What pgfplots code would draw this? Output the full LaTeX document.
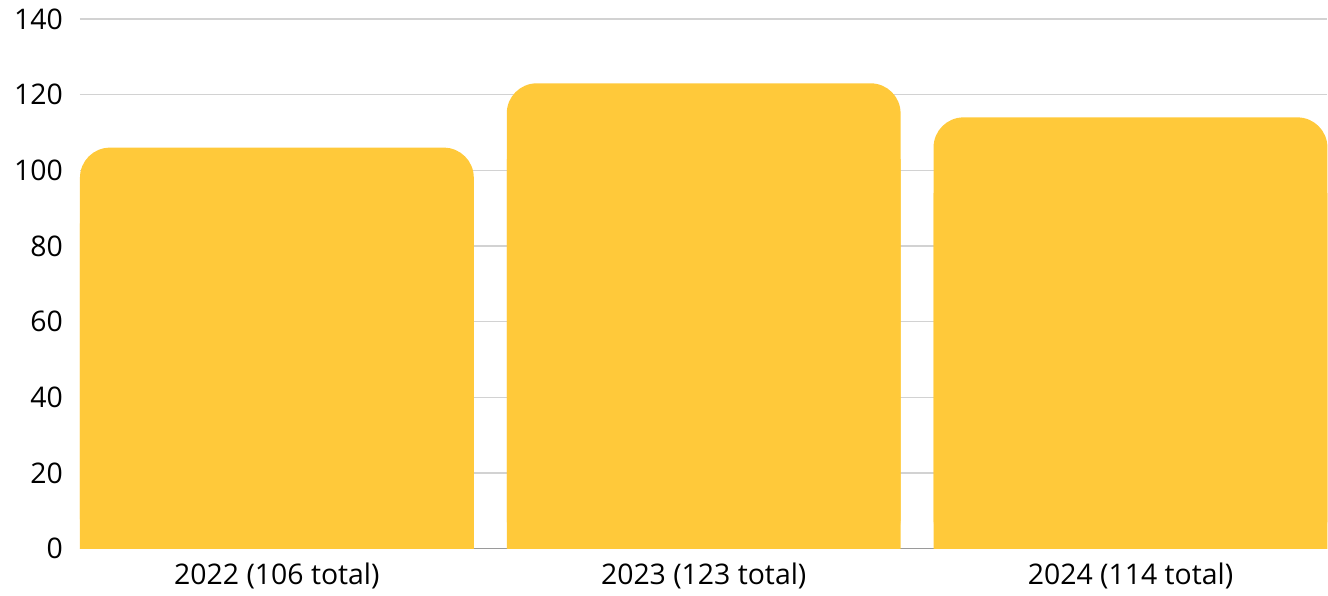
\documentclass[border=0pt]{standalone}
\usepackage{fontspec}
\setmainfont{Open Sans}
\usepackage{pgfplots}
\pgfplotsset{compat=1.18}
\usepackage{pgfplotstable}
\definecolor{baryellow}{HTML}{FFC93A}
\definecolor{gridgray}{HTML}{D2D2D2}
\definecolor{axisgray}{HTML}{9A9A9A}
\pgfplotstableread{
x y
0 106
1 123
2 114
}\bardata
\begin{document}
\begin{tikzpicture}
\begin{axis}[
  scale only axis,
  width=624pt, height=265pt,
  xmin=-0.4614, xmax=2.4614,
  ymin=0, ymax=140,
  ytick={0,20,...,140},
  xtick={0,1,2},
  xticklabels={2022 (106 total),2023 (123 total),2024 (114 total)},
  axis x line*=bottom,
  axis y line*=left,
  x axis line style={draw=axisgray, line width=0.6pt, -},
  y axis line style={draw=none},
  major tick length=0pt,
  tick style={draw=none},
  ymajorgrids,
  grid style={draw=gridgray, line width=0.6pt},
  /pgf/number format/assume math mode=true,
  tick label style={font=\fontsize{14.2}{16}\selectfont, text=black},
  yticklabel style={xshift=-5pt},
  xticklabel style={yshift=-3.5pt},
  clip=false,
]
\addplot[ybar, bar width=197pt, fill=baryellow, draw=none, rounded corners=15pt] table[x=x,y=y] {\bardata};
\addplot[ybar, bar width=197pt, fill=baryellow, draw=none] table[x=x,y expr=\thisrow{y}-20] {\bardata};
\end{axis}
\path[use as bounding box] (-40pt,-20.5pt) rectangle (624pt,274.5pt);
\end{tikzpicture}
\end{document}
